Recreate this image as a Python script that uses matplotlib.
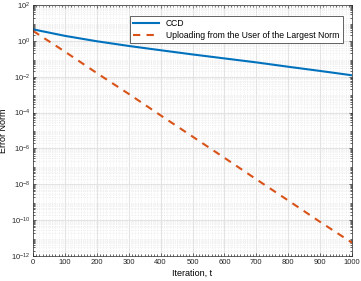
import numpy as np
import matplotlib.pyplot as plt
from matplotlib.ticker import MultipleLocator, LogLocator, NullFormatter

plt.rcParams['font.family'] = ['Liberation Sans', 'DejaVu Sans']

# values
iters = [0, 100, 200, 300, 400, 500, 600, 700, 800, 900, 1000]
ccd = [4.4, 1.9, 0.95, 0.52, 0.30, 0.175, 0.105, 0.063, 0.036, 0.021, 0.012]
upload = [3.6, 2.5e-1, 1.6e-2, 1.1e-3, 7.0e-5, 4.6e-6, 3.0e-7, 1.9e-8, 1.25e-9, 8.0e-11, 5.5e-12]

blue = '#0072BD'
orange = '#D95319'

fig = plt.figure(figsize=(3.61, 2.81), dpi=100)
ax = fig.add_axes([33 / 361, 25 / 281, 319 / 361, 251 / 281])

ax.semilogy(iters, ccd, color=blue, lw=1.5, label='CCD')
ax.semilogy(iters, upload, color=orange, lw=1.5, ls=(0, (3.5, 3)),
            label='Uploading from the User of the Largest Norm')

ax.set_xlim(0, 1000)
ax.set_ylim(1e-12, 1e2)
ax.xaxis.set_major_locator(MultipleLocator(100))
ax.xaxis.set_minor_locator(MultipleLocator(10))
ax.set_yticks([1e-12, 1e-10, 1e-8, 1e-6, 1e-4, 1e-2, 1e0, 1e2])
ax.yaxis.set_minor_locator(LogLocator(base=10, subs=np.arange(2, 10), numticks=100))
ax.yaxis.set_minor_formatter(NullFormatter())

ax.grid(True, which='major', color='#e3e3e3', lw=0.8, ls='-')
ax.grid(True, which='minor', color='#e6e6e6', lw=0.5, ls=':')
ax.set_axisbelow(True)

ax.tick_params(which='both', direction='in', top=True, right=True,
               labelsize=5.5, colors='#262626', width=0.5, pad=2)
ax.tick_params(which='major', length=2.5)
ax.tick_params(which='minor', length=1.5)
for s in ax.spines.values():
    s.set_color('#262626')
    s.set_linewidth(0.5)

ax.set_xlabel('Iteration, t', fontsize=6.5, labelpad=2)
ax.set_ylabel('Error Norm', fontsize=6.5)
ax.yaxis.set_label_coords(-0.078, 0.5)

leg = ax.legend(loc='upper right', fontsize=6.2, fancybox=False, framealpha=1,
                edgecolor='#262626', handlelength=3, borderpad=0.4,
                labelspacing=0.3, bbox_to_anchor=(0.985, 0.975))
leg.get_frame().set_linewidth(0.5)

fig.savefig('out.png', dpi=100)
